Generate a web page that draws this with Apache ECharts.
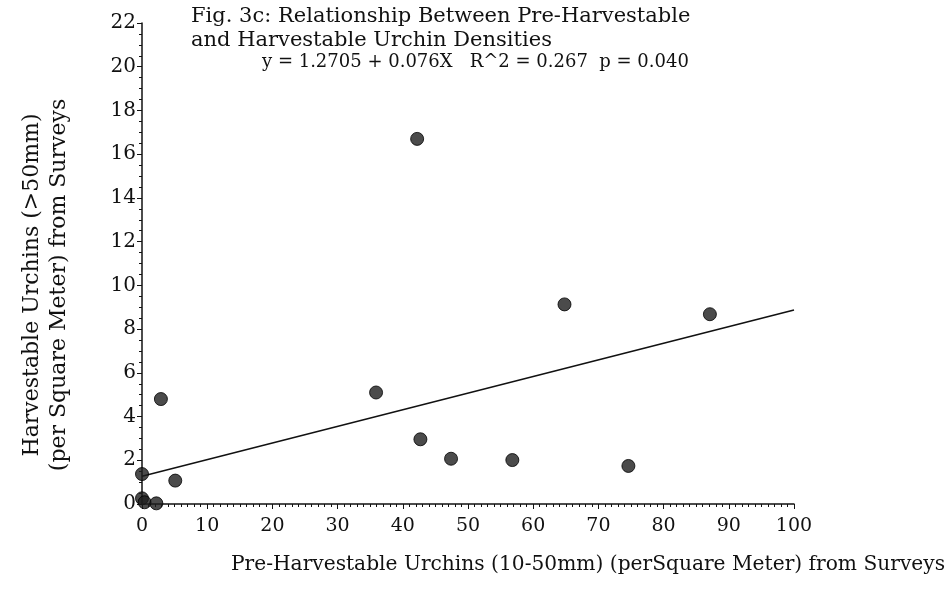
<!DOCTYPE html>
<html>
<head>
<meta charset="utf-8">
<script src="https://cdn.jsdelivr.net/npm/echarts@6/dist/echarts.min.js"></script>
<style>
  html, body { margin: 0; padding: 0; background: #fff; }
  #chart { width: 948px; height: 592px; }
</style>
</head>
<body>
<div id="chart"></div>
<script>
// Survey densities per site (urchins per square meter)
const preHarvestable = [0, 0, 0.4, 2.2, 2.9, 5.1, 35.9, 42.2, 42.7, 47.4, 56.8, 64.8, 74.6, 87.1];
const harvestable    = [1.37, 0.26, 0.08, 0.03, 4.8, 1.07, 5.1, 16.7, 2.96, 2.07, 2.01, 9.13, 1.74, 8.68];

// Least-squares fit reported on the figure
const intercept = 1.2705;
const slope = 0.076;
const fitRange = [0, 100];

const xTicks = { min: 0, max: 100, interval: 10 };
const yTicks = { min: 0, max: 22, interval: 2 };

const serif = '"DejaVu Serif", "Liberation Serif", serif';

const points = preHarvestable.map((x, i) => [x, harvestable[i]]);
const fitLine = fitRange.map(x => [x, intercept + slope * x]);

const chart = echarts.init(document.getElementById('chart'));
chart.setOption({
  backgroundColor: '#fff',
  animation: false,
  title: [
    {
      text: 'Fig. 3c: Relationship Between Pre-Harvestable\nand Harvestable Urchin Densities',
      left: 186, top: 0,
      textStyle: { fontFamily: serif, fontSize: 21, fontWeight: 'normal', color: '#111', lineHeight: 24 }
    },
    {
      text: 'y = 1.2705 + 0.076X   R^2 = 0.267  p = 0.040',
      left: 257, top: 48,
      textStyle: { fontFamily: serif, fontSize: 18, fontWeight: 'normal', color: '#111' }
    }
  ],
  grid: { left: 142, right: 154, top: 23, bottom: 88 },
  xAxis: {
    type: 'value',
    min: xTicks.min, max: xTicks.max, interval: xTicks.interval,
    splitLine: { show: false },
    axisLine: { show: true, onZero: false, lineStyle: { color: '#111', width: 1.5 } },
    axisTick: { show: true, length: 5, lineStyle: { color: '#111' } },
    minorTick: { show: true, splitNumber: 10, length: 3, lineStyle: { color: '#111' } },
    axisLabel: { fontFamily: serif, fontSize: 19, color: '#111', margin: 13 }
  },
  yAxis: {
    type: 'value',
    min: yTicks.min, max: yTicks.max, interval: yTicks.interval,
    splitLine: { show: false },
    axisLine: { show: true, onZero: false, lineStyle: { color: '#111', width: 1.5 } },
    axisTick: { show: true, length: 5, lineStyle: { color: '#111' } },
    minorTick: { show: true, splitNumber: 4, length: 3, lineStyle: { color: '#111' } },
    axisLabel: { fontFamily: serif, fontSize: 20, color: '#111', margin: 6 }
  },
  graphic: [
    {
      type: 'text',
      left: 231, top: 555,
      style: {
        text: 'Pre-Harvestable Urchins (10-50mm) (perSquare Meter) from Surveys',
        font: '20.2px ' + serif, fill: '#111'
      }
    },
    {
      type: 'text',
      x: 46, y: 285, rotation: Math.PI / 2,
      style: {
        text: 'Harvestable Urchins (>50mm)\n(per Square Meter) from Surveys',
        font: '22px ' + serif, fill: '#111',
        align: 'center', verticalAlign: 'middle', lineHeight: 27
      }
    }
  ],
  series: [
    {
      type: 'line',
      data: fitLine,
      showSymbol: false,
      lineStyle: { color: '#111', width: 1.5 },
      z: 2
    },
    {
      type: 'scatter',
      data: points,
      symbol: 'circle',
      symbolSize: 13,
      itemStyle: { color: '#1e1e1e', borderColor: '#000', borderWidth: 1 },
      z: 3
    }
  ]
});
</script>
</body>
</html>
